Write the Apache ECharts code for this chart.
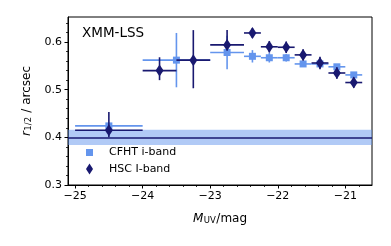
<!DOCTYPE html>
<html>
<head>
<meta charset="utf-8">
<script src="https://cdn.jsdelivr.net/npm/echarts@6/dist/echarts.min.js"></script>
<style>
  html,body{margin:0;padding:0;background:#fff;}
  #main{width:391px;height:246px;}
</style>
</head>
<body>
<div id="main"></div>
<script>
// CFHT i-band bins
const cfhtX    = [-24.5, -23.5, -22.75, -22.375, -22.125, -21.875, -21.625, -21.375, -21.125, -20.875];
const cfhtXerr = [0.5, 0.5, 0.25, 0.125, 0.125, 0.125, 0.125, 0.125, 0.125, 0.125];
const cfhtY    = [0.424, 0.562, 0.578, 0.570, 0.567, 0.567, 0.554, 0.554, 0.548, 0.531];
const cfhtYerr = [0.004, 0.057, 0.035, 0.013, 0.010, 0.008, 0.006, 0.006, 0.006, 0.006];

// HSC I-band bins
const hscX     = [-24.5, -23.75, -23.25, -22.75, -22.375, -22.125, -21.875, -21.625, -21.375, -21.125, -20.875];
const hscXerr  = [0.5, 0.25, 0.25, 0.25, 0.125, 0.125, 0.125, 0.125, 0.125, 0.125, 0.125];
const hscY     = [0.415, 0.540, 0.562, 0.594, 0.619, 0.590, 0.589, 0.573, 0.556, 0.535, 0.515];
const hscYlo   = [0.015, 0.020, 0.059, 0.012, 0.010, 0.012, 0.012, 0.012, 0.013, 0.012, 0.011];
const hscYhi   = [0.038, 0.028, 0.063, 0.031, 0.010, 0.012, 0.012, 0.012, 0.013, 0.012, 0.011];

// reference level and its band
const refLevel = 0.40;
const refBand  = [0.384, 0.416];

// ticks
const xMajor = [-25, -24, -23, -22, -21];
const xMinor = [-24.8, -24.6, -24.4, -24.2, -23.8, -23.6, -23.4, -23.2, -22.8, -22.6, -22.4, -22.2,
                -21.8, -21.6, -21.4, -21.2, -20.8];
const yMajor = [0.3, 0.4, 0.5, 0.6];
const yMinor = [0.32, 0.34, 0.36, 0.38, 0.42, 0.44, 0.46, 0.48, 0.52, 0.54, 0.56, 0.58, 0.62, 0.64];

const LIGHT = '#6495ED';
const DARK = '#191970';
const FONT = 'DejaVu Sans';

const chart = echarts.init(document.getElementById('main'), null, {renderer:'canvas'});

function errBars(color){
  return function(params, api){
    const x = api.value(0), y = api.value(1), xe = api.value(2), lo = api.value(3), hi = api.value(4);
    const a = api.coord([x - xe, y]), b = api.coord([x + xe, y]);
    const c = api.coord([x, y - lo]), d = api.coord([x, y + hi]);
    const style = {stroke: color, lineWidth: 1.6};
    return {
      type: 'group',
      children: [
        {type:'line', shape:{x1:a[0], y1:a[1], x2:b[0], y2:b[1]}, style: style},
        {type:'line', shape:{x1:c[0], y1:c[1], x2:d[0], y2:d[1]}, style: style}
      ]
    };
  };
}

const cfhtErrData = cfhtX.map((x,i) => [x, cfhtY[i], cfhtXerr[i], cfhtYerr[i], cfhtYerr[i]]);
const hscErrData = hscX.map((x,i) => [x, hscY[i], hscXerr[i], hscYlo[i], hscYhi[i]]);

const minus = v => String(v).replace('-', '\u2212');

const xMin = -25.105, xMax = -20.605;
const yMin = 0.3, yMax = 0.6525;

const nameRich = {
  i: {fontFamily: FONT, fontSize: 12, fontStyle: 'italic', color: '#000'},
  s: {fontFamily: FONT, fontSize: 8.5, color: '#000', verticalAlign: 'bottom', padding: [4,0.5,0,0.5]},
  n: {fontFamily: FONT, fontSize: 12, color: '#000'}
};

let option = {
  animation: false,
  title: {
    text: 'XMM-LSS',
    left: 82, top: 26, padding: 0,
    textStyle: {fontFamily: FONT, fontSize: 13.5, fontWeight: 'normal', color: '#000'}
  },
  legend: [
    {
      data: ['CFHT i-band'], left: 86, top: 147, padding: 0,
      icon: 'rect', itemWidth: 7, itemHeight: 7, selectedMode: false,
      textStyle: {fontFamily: FONT, fontSize: 11, color: '#000', padding: [0,0,0,11]}
    },
    {
      data: ['HSC I-band'], left: 86, top: 163.5, padding: 0,
      icon: 'diamond', itemWidth: 7, itemHeight: 11, selectedMode: false,
      textStyle: {fontFamily: FONT, fontSize: 11, color: '#000', padding: [0,0,0,11]}
    }
  ],
  grid: {
    left: 68, right: 19, top: 17, bottom: 61,
    show: true, borderColor: '#000', borderWidth: 1, backgroundColor: 'transparent'
  },
  xAxis: [
    {
      type: 'value', min: xMin, max: xMax, position: 'bottom',
      name: '{i|M}{s|UV}{n|/mag}', nameLocation: 'middle', nameGap: 27,
      nameTextStyle: {fontFamily: FONT, fontSize: 12, color: '#000', rich: nameRich},
      axisLine: {show: true, lineStyle: {color: '#000', width: 1}},
      axisTick: {show: true, inside: false, length: 3.5, customValues: xMajor, lineStyle: {color: '#000', width: 1}},
      axisLabel: {customValues: xMajor, formatter: minus, margin: 6, fontFamily: FONT, fontSize: 11, color: '#000'},
      splitLine: {show: false}
    },
    {
      type: 'value', min: xMin, max: xMax, position: 'bottom',
      axisLine: {show: false},
      axisTick: {show: true, inside: false, length: 2, customValues: xMinor, lineStyle: {color: '#000', width: 0.8}},
      axisLabel: {show: false},
      splitLine: {show: false}
    }
  ],
  yAxis: [
    {
      type: 'value', min: yMin, max: yMax, position: 'left',
      name: '{i|r}{s|1/2}{n| / arcsec}', nameLocation: 'middle', nameGap: 34,
      nameTextStyle: {fontFamily: FONT, fontSize: 12, color: '#000', rich: nameRich},
      axisLine: {show: true, lineStyle: {color: '#000', width: 1}},
      axisTick: {show: true, inside: false, length: 3.5, customValues: yMajor, lineStyle: {color: '#000', width: 1}},
      axisLabel: {customValues: yMajor, formatter: v => v.toFixed(1), margin: 6, fontFamily: FONT, fontSize: 11, color: '#000'},
      splitLine: {show: false}
    },
    {
      type: 'value', min: yMin, max: yMax, position: 'left',
      axisLine: {show: false},
      axisTick: {show: true, inside: false, length: 2, customValues: yMinor, lineStyle: {color: '#000', width: 0.8}},
      axisLabel: {show: false},
      splitLine: {show: false}
    }
  ],
  series: [
    {
      name: 'band', type: 'line', data: [], z: 1, silent: true,
      markArea: {
        silent: true,
        itemStyle: {color: 'rgba(100,149,237,0.5)'},
        data: [[{yAxis: refBand[0]}, {yAxis: refBand[1]}]]
      },
      markLine: {
        silent: true, symbol: 'none', label: {show: false},
        lineStyle: {color: DARK, width: 1.6, type: 'solid'},
        data: [{yAxis: refLevel}]
      }
    },
    {
      name: 'cfhtErr', type: 'custom', renderItem: errBars(LIGHT),
      data: cfhtErrData, encode: {x: 0, y: 1}, z: 2, silent: true
    },
    {
      name: 'CFHT i-band', type: 'scatter', symbol: 'rect', symbolSize: 7,
      itemStyle: {color: LIGHT, opacity: 1},
      data: cfhtX.map((x,i) => [x, cfhtY[i]]), z: 3, silent: true
    },
    {
      name: 'hscErr', type: 'custom', renderItem: errBars(DARK),
      data: hscErrData, encode: {x: 0, y: 1}, z: 4, silent: true
    },
    {
      name: 'HSC I-band', type: 'scatter', symbol: 'diamond', symbolSize: [8, 12],
      itemStyle: {color: DARK, opacity: 1},
      data: hscX.map((x,i) => [x, hscY[i]]), z: 5, silent: true
    }
  ]
};
chart.setOption(option);
</script>
</body>
</html>
